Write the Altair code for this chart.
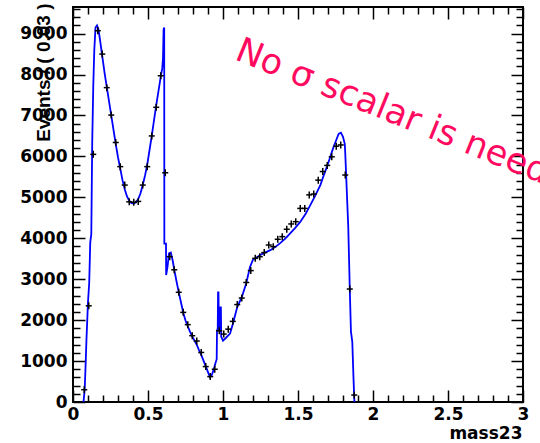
import altair as alt
import pandas as pd

# ---- data ----
pt_x = [0.075, 0.105, 0.135, 0.165, 0.195, 0.225, 0.255, 0.285, 0.315, 0.345,
        0.375, 0.405, 0.435, 0.465, 0.495, 0.525, 0.555, 0.585, 0.615, 0.645,
        0.675, 0.705, 0.735, 0.765, 0.795, 0.825, 0.855, 0.885, 0.915, 0.945,
        0.975, 1.005, 1.035, 1.065, 1.095, 1.125, 1.155, 1.185, 1.215, 1.245,
        1.275, 1.305, 1.335, 1.365, 1.395, 1.425, 1.455, 1.485, 1.515, 1.545,
        1.575, 1.605, 1.635, 1.665, 1.695, 1.725, 1.755, 1.785, 1.815, 1.845,
        1.875]
pt_y = [300, 2350, 6050, 9070, 8500, 7680, 7010, 6340, 5750, 5300,
        4890, 4880, 4900, 5300, 5750, 6500, 7200, 7970, 5600, 3550,
        3230, 2680, 2190, 1890, 1620, 1490, 1210, 865, 620, 800,
        1740, 1660, 1780, 1970, 2380, 2540, 2920, 3210, 3510, 3550,
        3650, 3835, 3795, 3975, 4040, 4220, 4350, 4405, 4730, 4730,
        5060, 5080, 5420, 5630, 5780, 5990, 6250, 6280, 5545, 2760,
        170]

curve_x = [0.070, 0.078, 0.085, 0.090, 0.100, 0.108, 0.115, 0.122, 0.128, 0.135,
           0.142, 0.150, 0.160, 0.170, 0.180, 0.195, 0.210, 0.225, 0.240, 0.255,
           0.270, 0.285, 0.300, 0.315, 0.330, 0.345, 0.360, 0.375, 0.390, 0.405,
           0.420, 0.435, 0.450, 0.465, 0.480, 0.495, 0.510, 0.525, 0.540, 0.555,
           0.570, 0.585, 0.595, 0.600, 0.604, 0.608, 0.609, 0.620, 0.621, 0.630,
           0.640, 0.652, 0.665, 0.675, 0.690, 0.705, 0.720, 0.735, 0.750, 0.765,
           0.780, 0.795, 0.810, 0.825, 0.840, 0.855, 0.870, 0.885, 0.900, 0.913,
           0.925, 0.935, 0.950, 0.958, 0.960, 0.965, 0.967, 0.970, 0.972, 0.980,
           0.983, 0.986, 0.988, 1.000, 1.020, 1.047, 1.065, 1.095, 1.125, 1.155,
           1.180, 1.200, 1.220, 1.248, 1.280, 1.315, 1.350, 1.381, 1.415, 1.448,
           1.480, 1.515, 1.550, 1.582, 1.615, 1.649, 1.670, 1.693, 1.710, 1.726,
           1.740, 1.755, 1.771, 1.786, 1.800, 1.812, 1.815, 1.825, 1.835, 1.845,
           1.853, 1.862, 1.870, 1.876]
curve_y = [0, 300, 1000, 1550, 2450, 2900, 3900, 4100, 6300, 7700,
           8600, 9150, 9200, 9100, 8850, 8450, 8050, 7700, 7350, 7000,
           6650, 6300, 5980, 5700, 5420, 5200, 5020, 4920, 4860, 4850,
           4880, 4960, 5100, 5300, 5530, 5800, 6150, 6500, 6880, 7250,
           7600, 7950, 8150, 8400, 9100, 9150, 3870, 3870, 3100, 3300,
           3630, 3650, 3450, 3230, 2950, 2680, 2430, 2180, 1990, 1850,
           1720, 1600, 1500, 1400, 1270, 1150, 1010, 870, 730, 610,
           660, 760, 950, 1045, 1740, 1800, 2680, 2680, 1800, 1750,
           2310, 2310, 1600, 1500, 1570, 1670, 1900, 2320, 2560, 2900,
           3300, 3480, 3520, 3590, 3650, 3710, 3790, 3880, 3990, 4120,
           4250, 4400, 4590, 4810, 5040, 5300, 5520, 5750, 5930, 6110,
           6260, 6400, 6550, 6580, 6480, 6300, 6080, 5180, 4280, 2790,
           1720, 1470, 580, 0]

x_label_values = [0, 0.5, 1, 1.5, 2, 2.5, 3]
y_label_values = [0, 1000, 2000, 3000, 4000, 5000, 6000, 7000, 8000, 9000]
x_tick_values = [round(i * 0.1, 1) for i in range(31)]
y_tick_values = [i * 200 for i in range(49)]

note_text = ["No σ scalar is needed"]
note_x = [1.07]
note_y = [8380]

W, H = 450, 395

points = pd.DataFrame({"x": pt_x, "y": pt_y})
curve = pd.DataFrame({"x": curve_x, "y": curve_y, "i": list(range(len(curve_x)))})
note = pd.DataFrame({"x": note_x, "y": note_y, "t": note_text})

xs = alt.Scale(domain=[0, 3], nice=False, zero=False)
ys = alt.Scale(domain=[0, 9650], nice=False, zero=False)

LBL = dict(labelFont="DejaVu Sans", labelFontWeight="bold", labelFontSize=17,
           labelColor="black")
TICKS = dict(labels=False, domain=False, title=None, tickColor="black",
             tickWidth=1.5, grid=False)
x_major = {"condition": {"test": "abs(datum.value*2 - round(datum.value*2)) < 0.001", "value": 12}, "value": 7}
y_major = {"condition": {"test": "datum.value % 1000 === 0", "value": 12}, "value": 7}

# curve layer: carries the labelled axes
line = alt.Chart(curve).mark_line(color="#0000ff", strokeWidth=1.8, clip=True).encode(
    x=alt.X("x:Q", scale=xs, axis=alt.Axis(
        orient="bottom", values=x_label_values, format="~g", ticks=False, tickSize=0,
        domain=False, grid=False, labelPadding=4, labelFlush=False,
        title="mass23", titleFont="DejaVu Sans", titleFontWeight="bold",
        titleFontSize=17, titleColor="black", titleAlign="right",
        titleBaseline="alphabetic", titleX=449, titleY=36, **LBL)),
    y=alt.Y("y:Q", scale=ys, axis=alt.Axis(
        orient="left", values=y_label_values, format="d", ticks=False, tickSize=0,
        domain=False, grid=False, labelPadding=6, labelFlush=False,
        title="Events / ( 0.03 )", titleFont="Liberation Sans", titleFontWeight="bold",
        titleFontSize=19, titleColor="black", titleAngle=-90, titleAlign="right",
        titleBaseline="middle", titleX=-30, titleY=-4, **LBL)),
    order="i:Q",
)

# vertical bars of the data crosses; axes give inward ticks at bottom and left
vbar = alt.Chart(points).mark_tick(orient="vertical", size=7, thickness=1.5,
                                   color="black", opacity=1).encode(
    x=alt.X("x:Q", scale=xs, axis=alt.Axis(orient="top", offset=-H,
                                           values=x_tick_values, tickSize=x_major, **TICKS)),
    y=alt.Y("y:Q", scale=ys, axis=alt.Axis(orient="right", offset=-W,
                                           values=y_tick_values, tickSize=y_major, **TICKS)),
)

# horizontal bars of the data crosses; axes give inward ticks at top and right
hbar = alt.Chart(points).mark_tick(orient="horizontal", size=6, thickness=1.5,
                                   color="black", opacity=1).encode(
    x=alt.X("x:Q", scale=xs, axis=alt.Axis(orient="bottom", offset=-H,
                                           values=x_tick_values, tickSize=x_major, **TICKS)),
    y=alt.Y("y:Q", scale=ys, axis=alt.Axis(orient="left", offset=-W,
                                           values=y_tick_values, tickSize=y_major, **TICKS)),
)

text = alt.Chart(note).mark_text(
    angle=22, align="left", baseline="alphabetic", font="DejaVu Sans",
    fontSize=35, color="#ff0a5e",
).encode(
    x=alt.X("x:Q", scale=xs, axis=None),
    y=alt.Y("y:Q", scale=ys, axis=None),
    text="t:N",
)

chart = alt.layer(line, vbar, hbar, text).resolve_axis(
    x="independent", y="independent"
).properties(
    width=W, height=H,
    autosize=alt.AutoSizeParams(type="none"),
    padding={"left": 73, "top": 7, "right": 17, "bottom": 41},
    background="white",
).configure_view(stroke="black", strokeWidth=2)

chart.save("out.html", embed_options={"renderer": "svg", "actions": False})
